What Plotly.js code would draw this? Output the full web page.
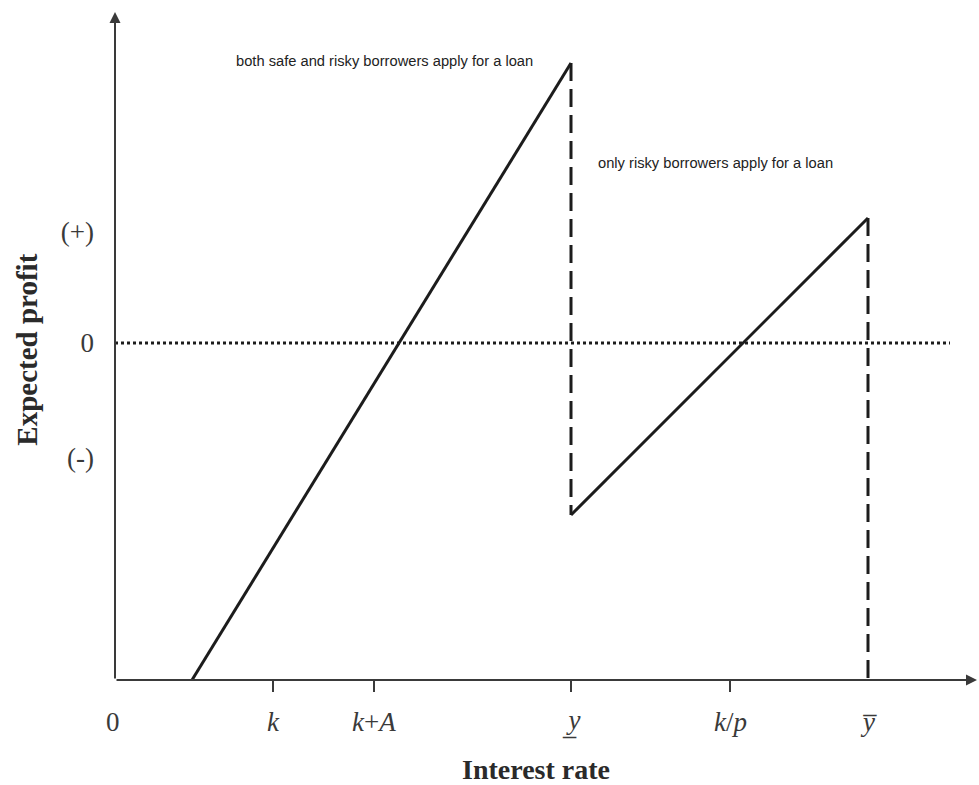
<!DOCTYPE html>
<html>
<head>
<meta charset="utf-8">
<script src="https://cdn.plot.ly/plotly-3.0.1.min.js"></script>
<style>html,body{margin:0;padding:0;background:#fff;}#chart{width:979px;height:785px;}</style>
</head>
<body>
<div id="chart"></div>
<script>
// Interest-rate positions (arbitrary units)
const rateNames = ["k", "k+A", "y_low", "k/p", "y_high"];
const ratePos = [158, 259, 456, 615, 753];
const tickLabels = ["<i>k</i>", "<i>k</i>+<i>A</i>", "<i>y\u0332</i>", "<i>k</i>/<i>p</i>", "<i>y\u0305</i>"];
const tickShown = [true, true, true, true, false];
const originLabel = "0";

// Expected-profit curve segments
const seg1X = [77, 456];      // both safe and risky borrowers
const seg1Y = [-337, 280];
const seg2X = [456, 753];     // only risky borrowers
const seg2Y = [-172, 125];
const drop1X = [456, 456];
const drop1Y = [280, -172];
const drop2X = [753, 753];
const drop2Y = [125, -337];
const zeroX = [0, 835];
const zeroY = [0, 0];

// Expected-profit tick labels
const profitVals = [111, 0, -115];
const profitText = ["(+)", "0", "(-)"];

const xMin = 0, xMax = 860, yMin = -337, yMax = 328;

const solid = {color: "#1c1c1c", width: 3};
const traces = [
  {x: seg1X, y: seg1Y, mode: "lines", line: solid, hoverinfo: "skip"},
  {x: seg2X, y: seg2Y, mode: "lines", line: solid, hoverinfo: "skip"},
  {x: drop1X, y: drop1Y, mode: "lines", line: {color: "#1c1c1c", width: 3, dash: "18px,8px"}, hoverinfo: "skip"},
  {x: drop2X, y: drop2Y, mode: "lines", line: {color: "#1c1c1c", width: 3, dash: "18px,8px"}, hoverinfo: "skip"},
  {x: zeroX, y: zeroY, mode: "lines", line: {color: "#1c1c1c", width: 3, dash: "3px,3px"}, hoverinfo: "skip"}
];

const serif = "Liberation Serif, Times New Roman, serif";
const sans = "Liberation Sans, Arial, sans-serif";
const annotations = [];
// axis arrows
annotations.push({x: xMax + 2, y: yMin, ax: 0, ay: yMin, xref: "x", yref: "y", axref: "x", ayref: "y",
  showarrow: true, arrowhead: 2, arrowsize: 1.1, arrowwidth: 2, arrowcolor: "#3a3a3a", text: ""});
annotations.push({x: 0, y: yMax + 3, ax: 0, ay: yMin, xref: "x", yref: "y", axref: "x", ayref: "y",
  showarrow: true, arrowhead: 2, arrowsize: 1.1, arrowwidth: 2, arrowcolor: "#3a3a3a", text: ""});
// x tick labels
annotations.push({x: 0, y: yMin, xref: "paper", yref: "y", xanchor: "center", yanchor: "middle", xshift: -2, yshift: -42,
  text: originLabel, showarrow: false, font: {family: serif, size: 27, color: "#3a3a3a"}});
for (let i = 0; i < ratePos.length; i++) {
  annotations.push({x: ratePos[i], y: yMin, xref: "x", yref: "y", xanchor: "center", yanchor: "middle", yshift: -42,
    text: tickLabels[i], showarrow: false, font: {family: serif, size: 27, color: "#3a3a3a"}});
}
// axis titles
annotations.push({x: 0.49, y: 0, xref: "paper", yref: "paper", xanchor: "center", yanchor: "middle", yshift: -89,
  text: "<b>Interest rate</b>", showarrow: false, font: {family: serif, size: 28, color: "#2a2a2a"}});
annotations.push({x: 0, y: (0 - yMin) / (yMax - yMin) - 0.01, xref: "paper", yref: "paper", xanchor: "center", yanchor: "middle",
  xshift: -88, text: "<b>Expected profit</b>", textangle: -90, showarrow: false,
  font: {family: serif, size: 29, color: "#2a2a2a"}});
// region notes
annotations.push({x: 119, y: 282, xref: "x", yref: "y", xanchor: "left", yanchor: "middle",
  text: "both safe and risky borrowers apply for a loan", showarrow: false, font: {family: sans, size: 14.7, color: "#222"}});
annotations.push({x: 481, y: 180, xref: "x", yref: "y", xanchor: "left", yanchor: "middle",
  text: "only risky borrowers apply for a loan", showarrow: false, font: {family: sans, size: 14.7, color: "#222"}});

const layout = {
  width: 979, height: 785,
  margin: {l: 115, r: 4, t: 15, b: 105},
  paper_bgcolor: "#fff", plot_bgcolor: "#fff",
  showlegend: false,
  xaxis: {range: [xMin, xMax], showgrid: false, zeroline: false, showline: false,
    tickvals: ratePos.filter((v, i) => tickShown[i]), ticks: "outside", ticklen: 11, tickwidth: 2,
    tickcolor: "#3a3a3a", showticklabels: false, fixedrange: true},
  yaxis: {range: [yMin, yMax], showgrid: false, zeroline: false, showline: false,
    tickvals: profitVals, ticktext: profitText, ticks: "", ticklabelstandoff: 20,
    tickfont: {family: serif, size: 27, color: "#3a3a3a"}, fixedrange: true},
  annotations: annotations
};

Plotly.newPlot("chart", traces, layout, {displayModeBar: false, staticPlot: true});
</script>
</body>
</html>
